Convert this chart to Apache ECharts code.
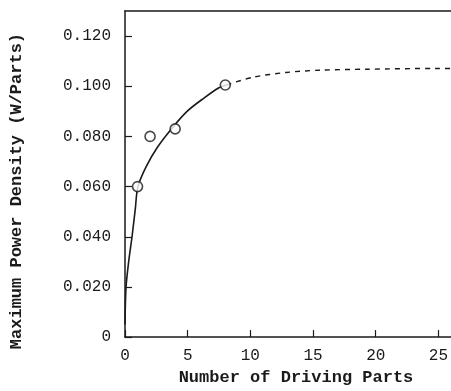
<!DOCTYPE html>
<html><head><meta charset="utf-8">
<script src="https://cdn.jsdelivr.net/npm/echarts@6/dist/echarts.min.js"></script>
<style>html,body{margin:0;padding:0;background:#fff}#c{width:451px;height:391px}</style>
</head><body><div id="c"></div>
<script>
// measured points (x = number of driving parts, y = W/Parts)
const measuredX = [1, 2, 4, 8];
const measuredY = [0.060, 0.080, 0.083, 0.1005];
// solid fitted curve
const solidX = [0, 0.08, 0.29, 0.56, 0.82, 1.03, 1.69, 2.6, 3.8, 4.97, 6.3, 7.46, 8.1];
const solidY = [0.005, 0.0197, 0.030, 0.040, 0.051, 0.060, 0.068, 0.0758, 0.0836, 0.0901, 0.0953, 0.0993, 0.1005];
// dashed extrapolation
const dashX = [8.1, 10.2, 12.85, 15.5, 19.4, 24.9, 26];
const dashY = [0.1005, 0.1036, 0.1055, 0.1064, 0.1068, 0.1071, 0.1071];
const xTicks = [0, 5, 10, 15, 20, 25];
const yTicks = [0, 0.02, 0.04, 0.06, 0.08, 0.10, 0.12];

const zip = (a, b) => a.map((v, i) => [v, b[i]]);
const ink = '#1a1a1a';
const font = 'Liberation Mono';
const chart = echarts.init(document.getElementById('c'));
chart.setOption({
  animation: false,
  backgroundColor: '#fff',
  grid: { left: 124, top: 11, right: 0, bottom: 47 },
  xAxis: [{
    type: 'value', min: 0, max: 26, interval: 5,
    name: 'Number of Driving Parts', nameLocation: 'middle', nameGap: 30,
    nameTextStyle: { fontFamily: font, fontSize: 17, fontWeight: 'bold', color: ink, padding: [0, 0, 0, 16] },
    axisLine: { show: true, lineStyle: { color: ink, width: 1.5 } },
    axisTick: { show: true, inside: true, length: 7, lineStyle: { color: ink, width: 1.2 },
      customValues: xTicks },
    axisLabel: { fontFamily: font, fontSize: 16, color: ink, margin: 11,
      customValues: xTicks, formatter: v => String(v) },
    splitLine: { show: false }
  }, {
    type: 'value', position: 'top', min: 0, max: 26,
    axisLine: { show: true, lineStyle: { color: ink, width: 1.5 } },
    axisTick: { show: false }, axisLabel: { show: false }, splitLine: { show: false }
  }],
  yAxis: {
    type: 'value', min: 0, max: 0.13, interval: 0.02,
    name: 'Maximum Power Density (W/Parts)', nameLocation: 'middle', nameGap: 100,
    nameTextStyle: { fontFamily: font, fontSize: 17, fontWeight: 'bold', color: ink, padding: [0, 34, 0, 0] },
    axisLine: { show: true, lineStyle: { color: ink, width: 1.5 } },
    axisTick: { show: true, inside: true, length: 7, lineStyle: { color: ink, width: 1.2 },
      customValues: yTicks },
    axisLabel: { fontFamily: font, fontSize: 16, color: ink, margin: 14,
      customValues: yTicks, formatter: v => v === 0 ? '0' : v.toFixed(3) },
    splitLine: { show: false }
  },
  series: [{
    type: 'line', data: zip(solidX, solidY), smooth: 0.3, showSymbol: false,
    lineStyle: { color: ink, width: 1.6 }
  }, {
    type: 'line', data: zip(dashX, dashY), smooth: 0.3, showSymbol: false,
    lineStyle: { color: ink, width: 1.4, type: [5, 5] }
  }, {
    type: 'scatter', data: zip(measuredX, measuredY), symbol: 'circle', symbolSize: 10,
    itemStyle: { color: '#fff', borderColor: ink, borderWidth: 1.6 }, z: 5
  }]
});
</script></body></html>
